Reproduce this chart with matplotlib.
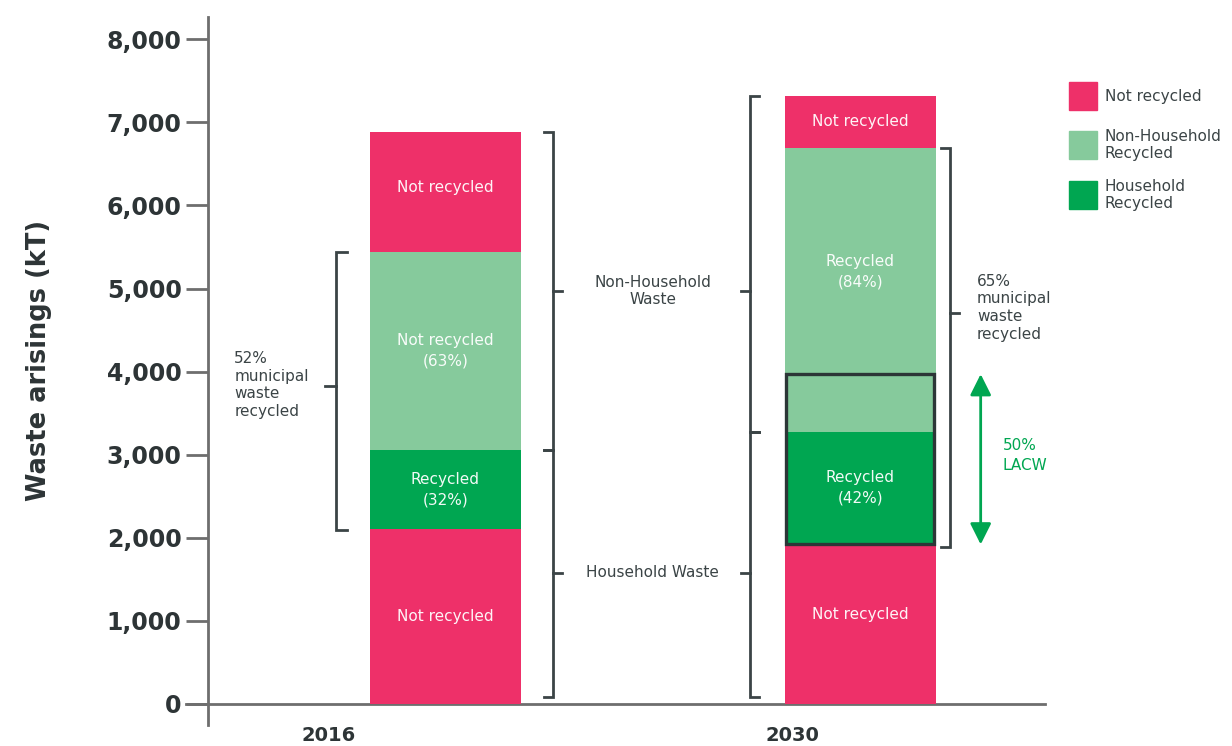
import matplotlib.pyplot as plt
from matplotlib.patches import Rectangle

plt.rcParams['font.family'] = 'DejaVu Sans'

years = ['2016', '2030']
# stacked segments, bottom to top (kT)
hh_not_recycled = [2100, 1920]
hh_recycled = [955, 1355]
nonhh_recycled = [2385, 3420]
nonhh_not_recycled = [1445, 625]

seg_labels = [
    ['Not recycled', 'Recycled\n(32%)', 'Not recycled\n(63%)', 'Not recycled'],
    ['Not recycled', 'Recycled\n(42%)', 'Recycled\n(84%)', 'Not recycled'],
]
legend_labels = ['Not recycled', 'Non-Household\nRecycled', 'Household\nRecycled']
lacw_target = 3970  # 50% LACW level in 2030

PINK = '#ee3069'
LIGHT = '#86ca9c'
DARK = '#00a651'
INK = '#3b4446'
AXIS = '#6e6e6e'

fig = plt.figure(figsize=(12.32, 7.46), dpi=100)
ax = fig.add_axes([208 / 1232, 21 / 746, (1045 - 208) / 1232, 708 / 746])
ax.set_xlim(-0.572, 1.445)
ax.set_ylim(-253, 8268)

xs = [0, 1]
w = 0.364
colors = [PINK, DARK, LIGHT, PINK]
series = [hh_not_recycled, hh_recycled, nonhh_recycled, nonhh_not_recycled]
# a few labels sit off the segment centre
label_y = {(1, 0): 1080, (1, 2): 5200, (0, 3): 6210}
bottoms = [0, 0]
for k, vals in enumerate(series):
    ax.bar(xs, vals, width=w, bottom=bottoms, color=colors[k], edgecolor='none', zorder=2)
    for i in range(2):
        yc = label_y.get((i, k), bottoms[i] + vals[i] / 2)
        ax.text(xs[i], yc, seg_labels[i][k], ha='center', va='center', color='white',
                fontsize=11, linespacing=1.45, alpha=0.95, zorder=4)
    bottoms = [bottoms[i] + vals[i] for i in range(2)]

hh_total = [hh_not_recycled[i] + hh_recycled[i] for i in range(2)]
totals = bottoms

# outline of the 50% LACW block
ax.add_patch(Rectangle((1 - w / 2 + 0.004, hh_not_recycled[1]), w - 0.008,
                       lacw_target - hh_not_recycled[1], fill=False,
                       edgecolor='#2c3637', lw=2.4, zorder=5))


def bracket(x, y0, y1, ymid, side, tick=0.021):
    # side = +1 -> ends point left and middle tick points right
    ax.plot([x - side * tick, x, x, x - side * tick], [y0, y0, y1, y1],
            color=INK, lw=2, solid_joinstyle='miter', zorder=3)
    ax.plot([x, x + side * tick], [ymid, ymid], color=INK, lw=2, zorder=3)


hh_mid, nonhh_mid = 1580, 4975
bracket(0.259, 80, hh_total[0], hh_mid, +1)
bracket(0.259, hh_total[0], totals[0], nonhh_mid, +1)
bracket(0.734, 80, hh_total[1], hh_mid, -1)
bracket(0.734, hh_total[1], totals[1], nonhh_mid, -1)
bracket(-0.264, hh_not_recycled[0] - 10, hh_total[0] + nonhh_recycled[0],
        3830, -1, tick=0.026)
bracket(1.216, hh_not_recycled[1] - 30, hh_total[1] + nonhh_recycled[1],
        4700, +1)

ax.text(0.5, hh_mid, 'Household Waste', ha='center', va='center', color=INK, fontsize=11)
ax.text(0.5, nonhh_mid, 'Non-Household\nWaste', ha='center', va='center', color=INK,
        fontsize=11, linespacing=1.15)
ax.text(-0.509, 3840, '52%\nmunicipal\nwaste\nrecycled', ha='left', va='center',
        color=INK, fontsize=11, linespacing=1.22)
ax.text(1.281, 4770, '65%\nmunicipal\nwaste\nrecycled', ha='left', va='center',
        color=INK, fontsize=11, linespacing=1.22)

# double-headed arrow for LACW
ax.annotate('', xy=(1.290, hh_not_recycled[1]), xytext=(1.290, lacw_target),
            arrowprops=dict(arrowstyle='<|-|>', color=DARK, lw=2,
                            mutation_scale=32, shrinkA=0, shrinkB=0))
ax.text(1.343, 2990, '50%\nLACW', ha='left', va='center', color=DARK,
        fontsize=11, linespacing=1.35)

# axes styling
for s in ['top', 'right', 'bottom']:
    ax.spines[s].set_visible(False)
ax.spines['left'].set_color(AXIS)
ax.spines['left'].set_linewidth(2)
ax.plot([-0.625, 1.445], [0, 0], color=AXIS, lw=2, clip_on=False, zorder=1)

ax.set_yticks(range(0, 8001, 1000))
ax.set_yticklabels([f'{v:,}' for v in range(0, 8001, 1000)])
ax.tick_params(axis='y', length=16, width=2, color=AXIS, pad=3,
               labelsize=17, labelcolor='#2d3436')
for t in ax.get_yticklabels():
    t.set_fontweight('bold')
ax.set_xticks([-0.281, 0.837])
ax.set_xticklabels(years, fontsize=14, fontweight='bold', color='#2d3436')
ax.tick_params(axis='x', length=0, pad=1)
ax.set_ylabel('Waste arisings (kT)', fontsize=18.5, fontweight='bold',
              color='#2d3436')
ax.yaxis.set_label_coords(-0.186, 0.515)

# legend
leg_colors = [PINK, LIGHT, DARK]
leg_y = [96, 145, 195]
for c, lab, yy in zip(leg_colors, legend_labels, leg_y):
    fig.add_artist(Rectangle((1069 / 1232, 1 - (yy + 14) / 746), 28 / 1232, 28 / 746,
                             transform=fig.transFigure, color=c))
    fig.text(1105 / 1232, 1 - yy / 746, lab, ha='left', va='center', color=INK,
             fontsize=11, linespacing=1.15)

fig.savefig('out.png', dpi=100)
